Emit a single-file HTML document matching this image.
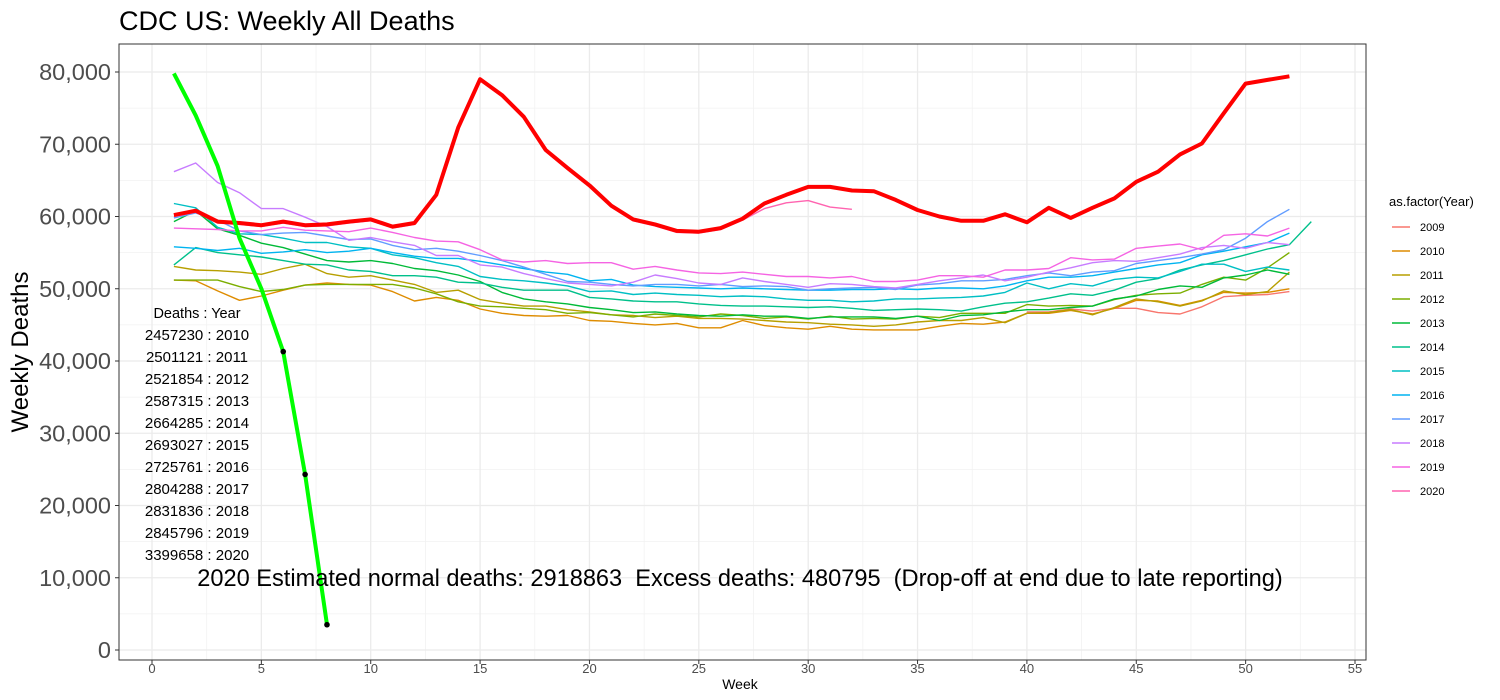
<!DOCTYPE html>
<html><head><meta charset="utf-8"><style>
body{margin:0;background:#fff;}
svg{display:block;font-family:"Liberation Sans",sans-serif;}
</style></head><body>
<svg id="chart" width="1500" height="700" xmlns="http://www.w3.org/2000/svg">
<text x="119" y="30" font-size="27" fill="#000">CDC US: Weekly All Deaths</text>
<g id="grid"></g><g id="series"></g><g id="axes"></g><g id="legend"></g>
</svg>
<script>
const years=["2009","2010","2011","2012","2013","2014","2015","2016","2017","2018","2019","2020"];
const colors=["#F8766D","#DE8C00","#B79F00","#7CAE00","#00BA38","#00C08B","#00BFC4","#00B4F0","#619CFF","#C77CFF","#F564E3","#FF64B0"];
const startWeek=[40,1,1,1,1,1,1,1,1,1,1,1];
const v2009=[46.8,46.8,47.2,46.9,47.3,47.3,46.7,46.5,47.5,48.9,49.1,49.2,49.6];
const v2010=[51.2,51.1,49.7,48.4,49.0,49.8,50.5,50.8,50.6,50.5,49.6,48.3,48.8,48.4,47.2,46.6,46.3,46.2,46.3,45.6,45.5,45.2,45.0,45.2,44.6,44.6,45.6,44.9,44.6,44.4,44.8,44.4,44.3,44.3,44.3,44.8,45.2,45.1,45.4,46.6,46.6,47.0,46.5,47.3,48.4,48.3,47.7,48.4,49.5,49.4,49.5,50.0];
const v2011=[53.1,52.6,52.5,52.3,52.0,52.8,53.4,52.1,51.6,51.8,51.2,50.6,49.5,49.8,48.5,48.0,47.6,47.6,47.1,46.8,46.4,46.3,46.0,46.2,45.9,45.9,45.8,45.6,45.4,45.3,45.1,45.0,44.8,45.0,45.4,45.6,45.6,46.0,45.3,46.6,46.7,47.1,46.4,47.4,48.6,48.2,47.6,48.3,49.7,49.2,49.6,52.3];
const v2012=[51.2,51.2,51.2,50.3,49.6,49.9,50.5,50.6,50.6,50.6,50.6,50.1,49.3,48.2,47.6,47.5,47.3,47.1,46.6,46.7,46.4,46.1,46.5,46.3,46.1,46.5,46.3,45.9,46.1,45.8,46.2,45.8,45.9,45.8,46.2,46.0,46.6,46.6,46.6,47.8,47.6,47.7,47.6,48.5,49.1,49.3,49.4,50.6,51.6,51.2,52.9,55.0];
const v2013=[59.3,60.8,58.3,57.4,56.3,55.7,54.8,53.9,53.7,53.9,53.5,52.8,52.5,51.9,51.0,49.5,48.6,48.2,47.9,47.4,47.1,46.7,46.8,46.5,46.3,46.2,46.4,46.2,46.2,45.9,46.1,46.1,46.1,45.9,46.2,45.6,46.3,46.4,46.8,47.1,47.1,47.4,47.6,48.6,49.0,49.9,50.4,50.2,51.5,51.9,52.6,52.0];
const v2014=[53.3,55.7,55.0,54.7,54.4,53.9,53.4,53.3,52.6,52.4,51.8,51.8,51.6,50.9,50.8,50.2,49.8,49.8,49.8,48.8,48.6,48.3,48.2,48.2,47.9,47.7,47.6,47.6,47.5,47.4,47.5,47.3,47.0,47.1,47.2,47.1,46.9,47.5,48.0,48.2,48.7,49.3,49.1,49.8,50.9,51.4,52.6,53.3,53.9,54.7,55.5,56.1,59.3];
const v2015=[61.8,61.2,58.5,57.6,57.5,57.0,56.4,56.4,55.8,55.6,54.7,54.3,53.6,53.1,51.7,51.3,51.1,50.8,50.4,49.6,49.7,49.2,49.4,49.2,49.1,48.9,49.0,48.9,48.6,48.4,48.4,48.2,48.3,48.6,48.6,48.7,48.8,49.0,49.5,50.8,50.0,50.7,50.4,51.3,51.6,51.5,52.4,53.4,53.4,52.4,53.0,52.6];
const v2016=[55.8,55.6,55.3,55.6,54.9,55.1,55.4,55.0,55.2,55.6,55.0,54.5,54.2,54.2,53.8,53.3,52.8,52.3,52.0,51.1,51.3,50.5,50.3,50.2,50.1,50.0,50.1,50.0,49.9,49.8,49.8,49.9,49.9,50.0,49.9,50.1,50.1,50.0,50.4,51.1,51.6,51.6,51.8,52.3,52.8,53.3,53.6,54.7,55.2,55.8,56.4,57.7];
const v2017=[59.8,60.5,59.5,58.0,57.5,57.7,57.8,57.3,56.8,56.9,56.0,55.4,55.6,55.2,54.6,53.9,53.0,52.0,51.0,50.9,50.6,50.4,50.6,50.6,50.4,50.6,50.3,50.4,50.3,49.8,50.0,50.1,50.2,49.9,50.5,50.7,51.1,51.1,51.3,51.8,52.2,51.8,52.3,52.5,53.5,53.9,54.3,54.8,55.4,57.0,59.3,61.0];
const v2018=[66.2,67.4,64.7,63.3,61.1,61.1,59.9,58.6,56.7,57.1,56.5,56.0,54.6,54.6,53.3,53.0,52.1,51.4,50.8,50.6,50.4,50.9,51.9,51.4,50.8,50.6,51.5,51.0,50.6,50.2,50.7,50.6,50.3,50.1,50.6,51.1,51.5,51.9,51.1,51.6,52.3,52.9,53.6,53.9,53.8,54.3,54.8,55.7,56.0,55.6,56.4,56.1];
const v2019=[58.4,58.3,58.2,58.0,58.0,58.5,58.1,58.0,57.9,58.4,57.8,57.1,56.6,56.5,55.4,54.0,53.7,53.9,53.5,53.6,53.6,52.7,53.1,52.6,52.2,52.1,52.3,52.0,51.7,51.7,51.5,51.7,51.0,51.0,51.2,51.8,51.8,51.6,52.6,52.6,52.8,54.3,54.0,54.1,55.6,55.9,56.2,55.4,57.4,57.6,57.3,58.4];
const v2020=[60.0,60.6,59.1,58.9,58.6,59.1,58.6,58.7,59.1,59.4,58.4,58.9,62.8,72.1,78.8,76.6,73.6,69.0,66.5,64.1,61.3,59.4,58.7,57.8,57.7,58.2,59.5,61.1,61.9,62.2,61.3,61.0];
const seriesValues=[v2009,v2010,v2011,v2012,v2013,v2014,v2015,v2016,v2017,v2018,v2019,v2020];
const redWeeks=[1,2,3,4,5,6,7,8,9,10,11,12,13,14,15,16,17,18,19,20,21,22,23,24,25,26,27,28,29,30,31,32,33,34,35,36,37,38,39,40,41,42,43,44,45,46,47,48,49,50,51,52];
const redValues=[60.2,60.8,59.3,59.1,58.8,59.3,58.8,58.9,59.3,59.6,58.6,59.1,63.0,72.3,79.0,76.8,73.8,69.2,66.7,64.3,61.5,59.6,58.9,58.0,57.9,58.4,59.7,61.8,63.0,64.1,64.1,63.6,63.5,62.3,60.9,60.0,59.4,59.4,60.3,59.2,61.2,59.8,61.2,62.5,64.8,66.2,68.6,70.1,74.3,78.4,78.9,79.4];
const greenWeeks=[1,2,3,4,5,6,7,8];
const greenValues=[79.8,74.0,67.0,57.0,50.0,41.3,24.3,3.5];
const yTicks=[0,10000,20000,30000,40000,50000,60000,70000,80000];
const yTickLabels=["0","10,000","20,000","30,000","40,000","50,000","60,000","70,000","80,000"];
const xTicks=[0,5,10,15,20,25,30,35,40,45,50,55];
const deathsLabels=["2457230 : 2010","2501121 : 2011","2521854 : 2012","2587315 : 2013","2664285 : 2014","2693027 : 2015","2725761 : 2016","2804288 : 2017","2831836 : 2018","2845796 : 2019","3399658 : 2020"];

const NS="http://www.w3.org/2000/svg";
const L=119,R=1366,T=44,B=660;
const x=w=>152+w*(1355-152)/55;
const y=v=>650-v*(650-72)/80000;
function mk(tag,attrs,parent){const e=document.createElementNS(NS,tag);for(const k in attrs)e.setAttribute(k,attrs[k]);parent.appendChild(e);return e;}
const grid=document.getElementById('grid'),ser=document.getElementById('series'),ax=document.getElementById('axes'),leg=document.getElementById('legend');
for(let v=5000;v<85000;v+=10000){const gl=mk('line',{x1:L,x2:R,y1:y(v),y2:y(v),stroke:'#F2F2F2','stroke-width':0.8},grid);

}
for(let w=-2.5;w<=57.5;w+=5){if(x(w)<L||x(w)>R)continue;const gl=mk('line',{x1:x(w),x2:x(w),y1:T,y2:B,stroke:'#F2F2F2','stroke-width':0.8},grid);

}
yTicks.forEach((v,i)=>{const gl=mk('line',{x1:L,x2:R,y1:y(v),y2:y(v),stroke:'#EBEBEB','stroke-width':1.3},grid);


const t=mk('text',{x:111,y:y(v)+8,'text-anchor':'end','font-size':23.5,fill:'#4D4D4D'},ax);t.textContent=yTickLabels[i];


mk('line',{x1:115,x2:L,y1:y(v),y2:y(v),stroke:'#333'},ax);});
xTicks.forEach(w=>{const gl=mk('line',{x1:x(w),x2:x(w),y1:T,y2:B,stroke:'#EBEBEB','stroke-width':1.3},grid);


const t=mk('text',{x:x(w),y:673,'text-anchor':'middle','font-size':13,fill:'#4D4D4D'},ax);t.textContent=String(w);


mk('line',{x1:x(w),x2:x(w),y1:B,y2:B+4,stroke:'#333'},ax);});
const fr=mk('rect',{x:L,y:T,width:R-L,height:B-T,fill:'none',stroke:'#333','stroke-width':1},ax);


function line(ws,vs,color,width,name){const d=vs.map((v,i)=>(i?'L':'M')+x(ws[i]).toFixed(1)+','+y(v).toFixed(1)).join(' ');
const p=mk('path',{d:d,fill:'none',stroke:color,'stroke-width':width,'stroke-linejoin':'round'},ser);

return p;}
seriesValues.forEach((vals,i)=>{const ws=vals.map((_,j)=>startWeek[i]+j);line(ws,vals.map(v=>v*1000),colors[i],1.4,'series-'+years[i]);});
line(redWeeks,redValues.map(v=>v*1000),'#FF0000',4,'total-deaths-line');
line(greenWeeks,greenValues.map(v=>v*1000),'#00FF00',4,'green-line');
greenWeeks.slice(5).forEach((w,j)=>{const c=mk('circle',{cx:x(w),cy:y(greenValues[5+j]*1000),r:2.8,fill:'#000'},ser);

});
let t=mk('text',{x:197,y:318,'text-anchor':'middle','font-size':14.5,fill:'#000'},ax);t.textContent='Deaths : Year';


deathsLabels.forEach((s,i)=>{const tt=mk('text',{x:197,y:340+i*22,'text-anchor':'middle','font-size':15,fill:'#000'},ax);tt.textContent=s;

});
t=mk('text',{x:740,y:586,'text-anchor':'middle','font-size':23.6,fill:'#000'},ax);t.textContent='2020 Estimated normal deaths: 2918863\u00A0\u00A0Excess deaths: 480795\u00A0\u00A0(Drop-off at end due to late reporting)';


t=mk('text',{x:740,y:689,'text-anchor':'middle','font-size':14,fill:'#000'},ax);t.textContent='Week';


t=mk('text',{x:0,y:0,'text-anchor':'middle','font-size':24,fill:'#000',transform:'translate(28,352) rotate(-90)'},ax);t.textContent='Weekly Deaths';


t=mk('text',{x:1389,y:206,'font-size':13,fill:'#000'},leg);t.textContent='as.factor(Year)';


years.forEach((yr,i)=>{const g=mk('g',{},leg);


const yy=227+i*24;mk('line',{x1:1392,x2:1410,y1:yy,y2:yy,stroke:colors[i],'stroke-width':1.4},g);
const lt=mk('text',{x:1420,y:yy+4,'font-size':11,fill:'#000'},g);lt.textContent=yr;});
</script>
</body></html>
